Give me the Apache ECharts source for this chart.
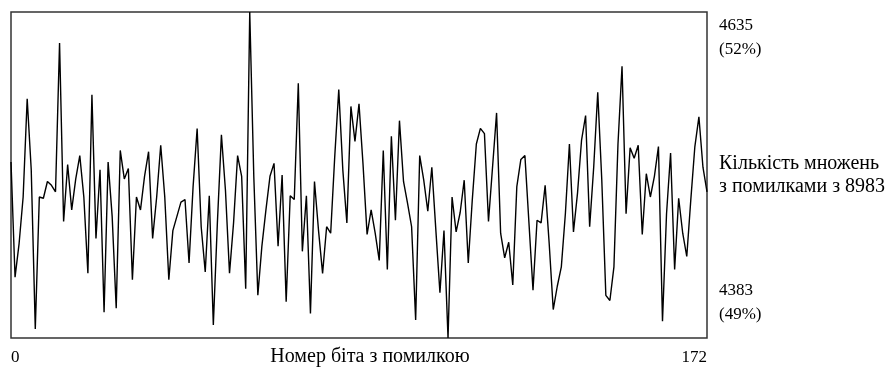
<!DOCTYPE html>
<html><head><meta charset="utf-8">
<script src="https://cdn.jsdelivr.net/npm/echarts@6/dist/echarts.min.js"></script>
<style>html,body{margin:0;padding:0;background:#fff}#c{width:889px;height:373px}</style>
</head><body><div id="c"></div>
<script>
// number of erroneous multiplications (out of 8983) for each error bit position 0..172
const errorCounts = [
4519,4430,4456,4492,4568,4513,4390,4492,4491,4504,
4501,4496,4611,4473,4517,4482,4506,4524,4492,4433,
4571,4460,4513,4403,4519,4477,4406,4528,4506,4514,
4428,4492,4482,4508,4527,4460,4492,4532,4492,4428,
4466,4477,4488,4490,4441,4500,4545,4469,4434,4493,
4393,4472,4540,4497,4433,4472,4524,4508,4421,4635,
4508,4416,4454,4482,4508,4518,4454,4509,4411,4493,
4490,4580,4450,4493,4402,4504,4466,4433,4469,4464,
4523,4575,4513,4472,4562,4535,4564,4517,4463,4482,
4464,4443,4528,4436,4539,4474,4551,4504,4487,4469,
4397,4524,4505,4481,4515,4466,4418,4466,4383,4492,
4465,4480,4505,4441,4490,4533,4545,4541,4473,4515,
4557,4464,4445,4457,4424,4500,4521,4524,4472,4420,
4474,4472,4501,4456,4405,4423,4438,4479,4533,4465,
4495,4536,4555,4469,4515,4573,4505,4416,4412,4438,
4533,4593,4479,4530,4522,4532,4463,4510,4492,4508,
4531,4396,4479,4526,4436,4491,4464,4446,4490,4531,
4554,4515,4496
];
const xTickValues = [0, 172];
const yTickValues = [4383, 4635];
const yTickPercents = ['49%', '52%'];
const xAxisTitle = 'Номер біта з помилкою';
const yAxisTitle = 'Кількість множень\nз помилками з 8983';

const font = '"Liberation Serif", "Times New Roman", serif';
const chart = echarts.init(document.getElementById('c'), null, {renderer: 'canvas'});
chart.setOption({
  animation: false,
  backgroundColor: '#fff',
  grid: {left: 11, right: 182, top: 12, bottom: 35, show: true,
         outerBoundsMode: 'none', containLabel: false,
         borderColor: '#333', borderWidth: 1.5, backgroundColor: '#fff'},
  xAxis: {
    type: 'value', min: xTickValues[0], max: xTickValues[1],
    axisLine: {show: false}, axisTick: {show: false}, splitLine: {show: false},
    axisLabel: {customValues: xTickValues, margin: 11, color: '#000',
                fontFamily: font, fontSize: 17,
                alignMinLabel: 'left', alignMaxLabel: 'right'},
    name: xAxisTitle, nameLocation: 'middle', nameGap: 9, nameMoveOverlap: false,
    nameTextStyle: {color: '#000', fontFamily: font, fontSize: 20,
                    verticalAlign: 'top', padding: [0, 0, 0, 22]}
  },
  yAxis: {
    type: 'value', position: 'right', min: yTickValues[0], max: yTickValues[1],
    axisLine: {show: false}, axisTick: {show: false}, splitLine: {show: false},
    axisLabel: {customValues: yTickValues, margin: 12, color: '#000',
                fontFamily: font, fontSize: 17, lineHeight: 24, align: 'left',
                padding: [2, 0, 11, 0],
                verticalAlignMinLabel: 'bottom', verticalAlignMaxLabel: 'top',
                formatter: v => v + '\n(' + yTickPercents[yTickValues.indexOf(v)] + ')'},
    name: yAxisTitle, nameLocation: 'middle', nameRotate: 0, nameGap: 12,
    nameMoveOverlap: false,
    nameTextStyle: {color: '#000', fontFamily: font, fontSize: 20,
                    lineHeight: 23, align: 'left', verticalAlign: 'middle'}
  },
  series: [{
    type: 'line', data: errorCounts.map((v, i) => [i, v]),
    showSymbol: false, symbol: 'none',
    lineStyle: {color: '#000', width: 1.4}
  }]
});
</script></body></html>
